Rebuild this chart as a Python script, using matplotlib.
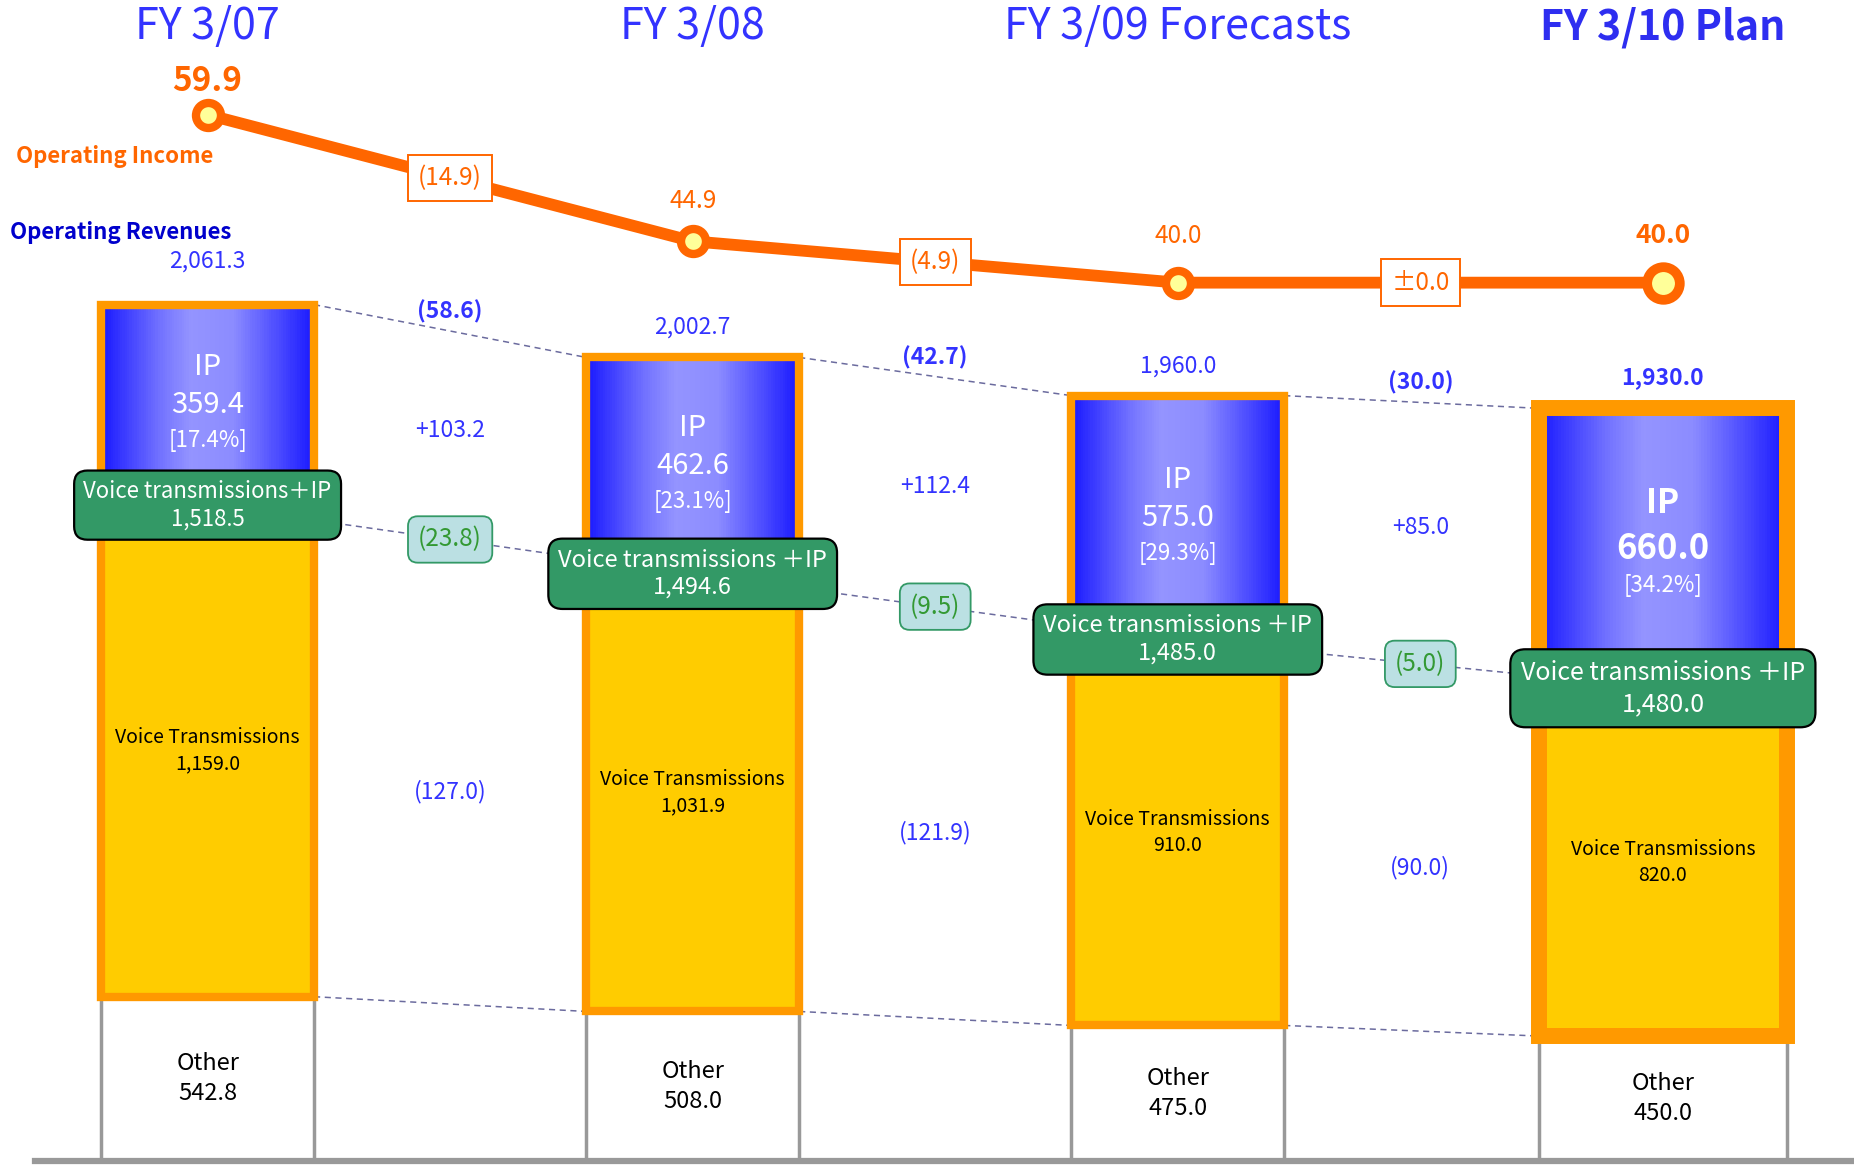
import numpy as np
import matplotlib
matplotlib.use('Agg')
import matplotlib.pyplot as plt
import matplotlib.transforms as mtransforms
from matplotlib.patches import Rectangle
from matplotlib.colors import LinearSegmentedColormap

plt.rcParams['font.family'] = ['Noto Sans CJK JP', 'DejaVu Sans']

# ---------------- data ----------------
years = ['FY 3/07', 'FY 3/08', 'FY 3/09 Forecasts', 'FY 3/10 Plan']
other = [542.8, 508.0, 475.0, 450.0]
voice = [1159.0, 1031.9, 910.0, 820.0]
ip = [359.4, 462.6, 575.0, 660.0]
ip_share = ['[17.4%]', '[23.1%]', '[29.3%]', '[34.2%]']
total = [2061.3, 2002.7, 1960.0, 1930.0]
voice_ip = [1518.5, 1494.6, 1485.0, 1480.0]
op_income = [59.9, 44.9, 40.0, 40.0]
total_change = ['(58.6)', '(42.7)', '(30.0)']
ip_change = ['+103.2', '+112.4', '+85.0']
voice_change = ['(127.0)', '(121.9)', '(90.0)']
voice_ip_change = ['(23.8)', '(9.5)', '(5.0)']
income_change = ['(14.9)', '(4.9)', '±0.0']

# ---------------- style ----------------
BLUE_TXT = '#3333FF'
ORANGE_LINE = '#FF6600'
ORANGE_BORDER = '#FF9900'
YELLOW = '#FFCC00'
GREEN = '#339966'
DASH = '#6B6B9E'
bar_w = [0.439, 0.439, 0.439, 0.511]
border_lw = [6.0, 6.0, 6.0, 11.5]
total_off = [44, 30, 30, 31]          # label offsets (px)
income_off = [33, 40, 47, 47]

def pt(px):
    return px * 0.72

x = np.arange(len(years))
other_a = np.array(other)
voice_a = np.array(voice)
ip_a = np.array(ip)
bnd = other_a + voice_a
top = bnd + ip_a

# piecewise-linear display scale (upper range stretched as in the original)
BREAK, STRETCH = 1960.0, 2.12
def fwd(v):
    v = np.asarray(v, float)
    return np.where(v > BREAK, BREAK + STRETCH * (v - BREAK), v)
def inv(u):
    u = np.asarray(u, float)
    return np.where(u > BREAK, BREAK + (u - BREAK) / STRETCH, u)
def mid(a, b):
    return float(inv((fwd(a) + fwd(b)) / 2.0))

fig = plt.figure(figsize=(18.54, 11.67), dpi=100)
rect = [35 / 1854, 6 / 1167, 1 - 35 / 1854, 1161 / 1167]
ax = fig.add_axes(rect)
ax.set_yscale('function', functions=(fwd, inv))
ax.set_xlim(-0.3558, 3.394)
ax.set_ylim(155.4, 2400)
for s in ['top', 'left', 'right']:
    ax.spines[s].set_visible(False)
ax.spines['bottom'].set_color('#999999')
ax.spines['bottom'].set_linewidth(4.5)
ax.set_xticks([])
ax.set_yticks([])
ax.yaxis.set_minor_locator(matplotlib.ticker.NullLocator())
ax.patch.set_alpha(0)

# dashed connectors
for i in range(3):
    xa = x[i] + bar_w[i] / 2
    xb = x[i + 1] - bar_w[i + 1] / 2
    ax.plot([xa, xb], [top[i], top[i + 1]], ls=(0, (4, 3)), color=DASH, lw=1.1, zorder=1)
    ax.plot([xa, xb], [other_a[i], other_a[i + 1]], ls=(0, (4, 3)), color=DASH, lw=1.1, zorder=1)
    ax.plot([x[i], x[i + 1]], [bnd[i], bnd[i + 1]], ls=(0, (4, 3)), color=DASH, lw=1.1, zorder=1)

# Other: gray side lines
for i in range(4):
    ax.vlines([x[i] - bar_w[i] / 2, x[i] + bar_w[i] / 2], 0, other_a[i], color='#999999', lw=2.5, zorder=2)

# Voice bars
ax.bar(x, voice_a, width=bar_w, bottom=other_a, color=YELLOW, linewidth=0, zorder=3)

# IP gradient bars
cmap = LinearSegmentedColormap.from_list('ipgrad', [(0, '#1a1aff'), (0.28, '#7474ff'), (0.42, '#9494ff'),
                                                    (0.62, '#8c8cff'), (1.0, '#1a1aff')])
n = 90
for i in range(4):
    x0 = x[i] - bar_w[i] / 2
    edges = np.linspace(x0, x0 + bar_w[i], n + 1)
    cen = (edges[:-1] + edges[1:]) / 2
    ax.bar(cen, ip_a[i], width=bar_w[i] / n * 1.05, bottom=bnd[i],
           color=cmap(np.linspace(0, 1, n)), linewidth=0, zorder=3)

# orange borders
for i in range(4):
    ax.add_patch(Rectangle((x[i] - bar_w[i] / 2, other_a[i]), bar_w[i], voice_a[i] + ip_a[i],
                           fill=False, edgecolor=ORANGE_BORDER, linewidth=border_lw[i],
                           joinstyle='miter', zorder=4))

blend = mtransforms.blended_transform_factory(ax.transData, ax.transAxes)

# titles
for i in range(4):
    ax.text(x[i], 0.9765, years[i], transform=blend, ha='center', va='center', fontsize=29.5 if i == 3 else 31,
            color='#2E2EF0' if i == 3 else BLUE_TXT, fontweight='bold' if i == 3 else 'normal')

# totals
for i in range(4):
    ax.annotate(f'{total[i]:,.1f}', (x[i], top[i]), xytext=(0, pt(total_off[i])), textcoords='offset points',
                ha='center', va='center', fontsize=16.5, color=BLUE_TXT,
                fontweight='bold' if i == 3 else 'normal', zorder=5)

# IP labels
for i in range(4):
    ym = mid(bnd[i], top[i])
    big = i == 3
    fw = 'bold' if big else 'normal'
    d_up, d_dn = (45, 37) if big else (38, 36)
    ax.annotate('IP', (x[i], ym), xytext=(0, pt(d_up)), textcoords='offset points', ha='center', va='center',
                fontsize=24 if big else 21, color='white', fontweight=fw, zorder=5)
    ax.annotate(f'{ip[i]:.1f}', (x[i], ym), xytext=(0, 0), textcoords='offset points', ha='center', va='center',
                fontsize=25 if big else 21, color='white', fontweight=fw, zorder=5)
    ax.annotate(ip_share[i], (x[i], ym), xytext=(0, -pt(d_dn)), textcoords='offset points', ha='center',
                va='center', fontsize=16, color='white', zorder=5)

# Voice labels
for i in range(4):
    ym = mid(other_a[i], bnd[i])
    ax.annotate('Voice Transmissions', (x[i], ym), xytext=(0, pt(13)), textcoords='offset points',
                ha='center', va='center', fontsize=14, color='black', zorder=5)
    ax.annotate(f'{voice[i]:,.1f}', (x[i], ym), xytext=(0, -pt(13)), textcoords='offset points',
                ha='center', va='center', fontsize=14, color='black', zorder=5)

# Other labels
y_base = ax.get_ylim()[0]
for i in range(4):
    ym = mid(y_base, other_a[i])
    ax.annotate('Other', (x[i], ym), xytext=(0, pt(15)), textcoords='offset points',
                ha='center', va='center', fontsize=17, color='black', zorder=5)
    ax.annotate(f'{other[i]:.1f}', (x[i], ym), xytext=(0, -pt(15)), textcoords='offset points',
                ha='center', va='center', fontsize=17, color='black', zorder=5)

# Voice + IP green boxes
for i in range(4):
    sep = '＋IP' if i == 0 else ' ＋IP'
    fs = 16 if i == 0 else (18 if i == 3 else 17)
    ax.text(x[i], bnd[i], f'Voice transmissions{sep}\n{voice_ip[i]:,.1f}', ha='center', va='center',
            fontsize=fs, color='white', linespacing=1.25, zorder=7,
            bbox=dict(boxstyle='round,pad=0.42,rounding_size=0.6', facecolor=GREEN, edgecolor='black', lw=1.6))

# change labels between bars
for i in range(3):
    xm = x[i] + 0.5
    ax.annotate(total_change[i], (xm, mid(top[i], top[i + 1])), xytext=(0, pt(19)), textcoords='offset points',
                ha='center', va='center', fontsize=16.5, color=BLUE_TXT, fontweight='bold', zorder=5)
    ipm = mid(mid(bnd[i], top[i]), mid(bnd[i + 1], top[i + 1]))
    ax.annotate(ip_change[i], (xm, ipm), xytext=(0, pt(5)), textcoords='offset points',
                ha='center', va='center', fontsize=16.5, color=BLUE_TXT, zorder=5)
    vm = mid(mid(other_a[i], bnd[i]), mid(other_a[i + 1], bnd[i + 1]))
    ax.annotate(voice_change[i], (xm, vm), xytext=(0, -pt(20)), textcoords='offset points',
                ha='center', va='center', fontsize=16.5, color=BLUE_TXT, zorder=5)
    ax.text(xm, mid(bnd[i], bnd[i + 1]), voice_ip_change[i], ha='center', va='center', fontsize=17.5,
            color='#339933', zorder=6,
            bbox=dict(boxstyle='round,pad=0.42,rounding_size=0.4', facecolor='#BBE0E3', edgecolor=GREEN, lw=1.3))

# ---------------- operating income line ----------------
ax2 = fig.add_axes(rect, sharex=ax)
ax2.set_ylim(-64.1, 73.5)
ax2.axis('off')
ax2.patch.set_alpha(0)
ax2.plot(x, op_income, color=ORANGE_LINE, lw=8.5, solid_capstyle='butt', zorder=2)
sizes = [18, 18, 18, 23.5]
edges_w = [6, 6, 6, 7]
for i in range(4):
    ax2.plot(x[i], op_income[i], 'o', ms=sizes[i], mew=edges_w[i], mec=ORANGE_LINE, mfc='#FFFF99', zorder=3)
for i in range(4):
    bold = i in (0, 3)
    ax2.annotate(f'{op_income[i]:.1f}', (x[i], op_income[i]), xytext=(0, pt(income_off[i])),
                 textcoords='offset points', ha='center', va='center',
                 fontsize=24 if i == 0 else (19 if bold else 17.5),
                 color=ORANGE_LINE, fontweight='bold' if bold else 'normal')
for i in range(3):
    ax2.text(x[i] + 0.5, (op_income[i] + op_income[i + 1]) / 2, income_change[i], ha='center', va='center',
             fontsize=17.5, color=ORANGE_LINE, zorder=4,
             bbox=dict(boxstyle='square,pad=0.42', facecolor='white', edgecolor=ORANGE_LINE, lw=1.4))

fig.text(16.5 / 1854, 1 - 156 / 1167, 'Operating Income', ha='left', va='center', fontsize=16,
         fontweight='bold', color=ORANGE_LINE)
fig.text(9.5 / 1854, 1 - 232 / 1167, 'Operating Revenues', ha='left', va='center', fontsize=16,
         fontweight='bold', color='#0000CC')

fig.savefig('out.png', dpi=100)
